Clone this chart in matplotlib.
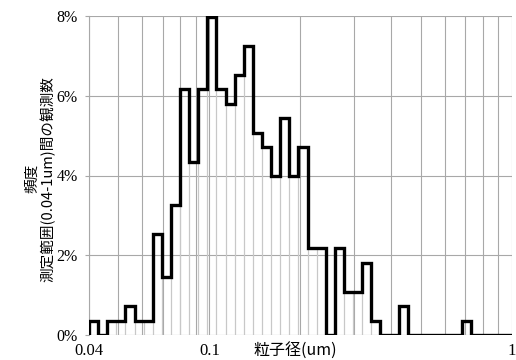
import numpy as np
import matplotlib
matplotlib.use("Agg")
import matplotlib.pyplot as plt
from matplotlib.ticker import FixedLocator, FuncFormatter, NullFormatter

# bin edges: 10 bins per octave starting at 0.04 um
bin_edges = [0.04 * 2 ** (k / 10) for k in range(48)]

# frequency per bin (%)
freq_pct = [0.36, 0.00, 0.36, 0.36, 0.72, 0.36, 0.36, 2.54, 1.45, 3.26,
            6.16, 4.35, 6.16, 7.97, 6.16, 5.80, 6.52, 7.25, 5.07, 4.71,
            3.99, 5.43, 3.99, 4.71, 2.17, 2.17, 0.00, 2.17, 1.09, 1.09,
            1.81, 0.36, 0.00, 0.00, 0.72, 0.00, 0.00, 0.00, 0.00, 0.00,
            0.00, 0.36, 0.00, 0.00, 0.00, 0.00, 0.00]

grid_x = [0.04, 0.05, 0.06, 0.07, 0.08, 0.09,
          0.1, 0.2, 0.3, 0.4, 0.5, 0.6, 0.7, 0.8, 0.9, 1.0]
x_ticks = [0.04, 0.1, 1]
x_tick_labels = ["0.04", "0.1", "1"]
y_ticks = [0, 2, 4, 6, 8]

plt.rcParams["font.family"] = ["Liberation Serif", "Noto Sans CJK JP", "DejaVu Sans"]

fig = plt.figure(figsize=(5.16, 3.6), dpi=100)
ax = fig.add_axes([0.1725, 0.0694, 0.8195, 0.8862])

edges = np.array(bin_edges)
vals = np.array(freq_pct)

# thin bar outlines at every bin edge (only below the histogram)
ax.bar(edges[:-1], vals, width=np.diff(edges), align="edge",
       fill=False, edgecolor="#c8c8c8", linewidth=0.8, zorder=1)

# histogram outline
ax.stairs(vals, edges, baseline=0, color="black", linewidth=2.4,
          zorder=3, clip_on=True)

ax.set_xscale("log")
ax.set_xlim(0.04, 1)
ax.set_ylim(0, 8)

ax.xaxis.set_major_locator(FixedLocator(x_ticks))
ax.xaxis.set_major_formatter(FuncFormatter(lambda v, p: x_tick_labels[x_ticks.index(v)] if v in x_ticks else ""))
ax.xaxis.set_minor_locator(FixedLocator(grid_x))
ax.xaxis.set_minor_formatter(NullFormatter())
ax.yaxis.set_major_locator(FixedLocator(y_ticks))
ax.yaxis.set_major_formatter(FuncFormatter(lambda v, p: f"{int(v)}%"))

ax.grid(True, which="both", axis="x", color="#a8a8a8", linewidth=0.8, zorder=0)
ax.grid(True, which="major", axis="y", color="#a8a8a8", linewidth=0.8, zorder=0)
ax.set_axisbelow(True)

ax.tick_params(axis="x", which="both", length=0, pad=6, labelsize=12)
ax.tick_params(axis="y", length=3, color="#a8a8a8", pad=5, labelsize=11.5)

for s in ["top", "right", "bottom"]:
    ax.spines[s].set_visible(False)
ax.spines["left"].set_color("#a8a8a8")
ax.spines["left"].set_linewidth(0.8)

ylab = ax.set_ylabel("頻度\n測定範囲(0.04-1um)間の観測数", fontsize=10.5,
                     family=["Noto Sans CJK JP", "DejaVu Sans"],
                     linespacing=1.0)
ax.yaxis.set_label_coords(-0.08, 0.49)
ax.text(0.487, -0.024, "粒子径(um)", transform=ax.transAxes, ha="center",
        va="top", fontsize=11.5, family=["Noto Sans CJK JP", "DejaVu Sans"])

fig.savefig("out.png", dpi=100)
